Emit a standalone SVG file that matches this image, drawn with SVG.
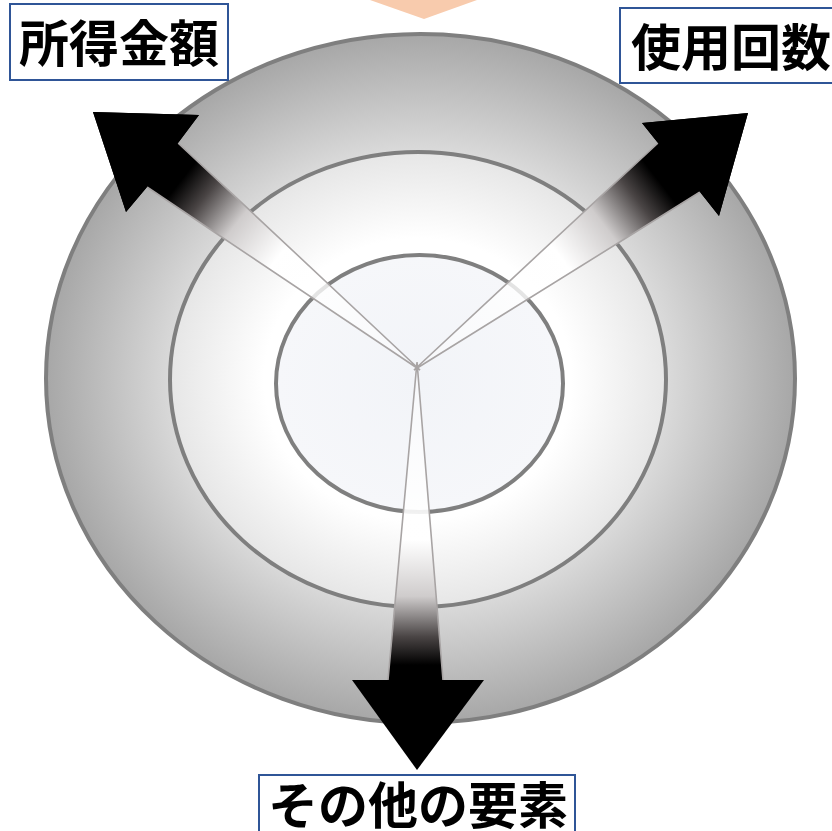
<svg xmlns="http://www.w3.org/2000/svg" width="832" height="831" viewBox="0 0 832 831">
<style>
.ring{stroke:#7f7f7f;stroke-width:4}
.lbl{fill:#fff;stroke:#2f5597;stroke-width:2}
.txt{font-family:"Noto Sans CJK JP","Noto Sans CJK SC",sans-serif;font-weight:bold;font-size:50px;fill:#000;text-anchor:middle}
.edge{fill:none;stroke:#a8a4a4;stroke-width:1.6}
.head{fill:#000}
</style>
<defs>
<radialGradient id="gOuter" cx="0.5" cy="0.5" r="0.5">
<stop offset="0" stop-color="#ffffff"/>
<stop offset="0.4" stop-color="#f6f6f6"/>
<stop offset="0.66" stop-color="#dadada"/>
<stop offset="1" stop-color="#a7a7a7"/>
</radialGradient>
<radialGradient id="gMid" cx="0.5" cy="0.5" r="0.5">
<stop offset="0" stop-color="#ffffff"/>
<stop offset="0.62" stop-color="#ffffff"/>
<stop offset="1" stop-color="#e6e6e6"/>
</radialGradient>
<radialGradient id="gIn" cx="0.5" cy="0.5" r="0.5">
<stop offset="0" stop-color="#f2f4f8"/>
<stop offset="1" stop-color="#f6f7fa"/>
</radialGradient>
<linearGradient id="aUL" gradientUnits="userSpaceOnUse" x1="417" y1="368" x2="93" y2="112">
<stop offset="0" stop-color="#fff" stop-opacity="0.3"/>
<stop offset="0.43" stop-color="#fff"/>
<stop offset="0.56" stop-color="#cfcccc"/>
<stop offset="0.66" stop-color="#4a4545"/>
<stop offset="0.73" stop-color="#000"/>
<stop offset="1" stop-color="#000"/>
</linearGradient>
<linearGradient id="aUR" gradientUnits="userSpaceOnUse" x1="419" y1="366" x2="748" y2="113">
<stop offset="0" stop-color="#fff" stop-opacity="0.3"/>
<stop offset="0.43" stop-color="#fff"/>
<stop offset="0.56" stop-color="#cfcccc"/>
<stop offset="0.66" stop-color="#4a4545"/>
<stop offset="0.73" stop-color="#000"/>
<stop offset="1" stop-color="#000"/>
</linearGradient>
<linearGradient id="aB" gradientUnits="userSpaceOnUse" x1="417" y1="366" x2="417" y2="770">
<stop offset="0" stop-color="#fff" stop-opacity="0.3"/>
<stop offset="0.43" stop-color="#fff"/>
<stop offset="0.57" stop-color="#cfcccc"/>
<stop offset="0.67" stop-color="#4a4545"/>
<stop offset="0.74" stop-color="#000"/>
<stop offset="1" stop-color="#000"/>
</linearGradient>
</defs>
<rect width="832" height="831" fill="#fff"/>
<g id="top-arrow"><polygon points="370,0 477,0 424,19" fill="#f8cbad"/></g>
<g id="ring-outer"><ellipse class="ring" cx="420.5" cy="378.5" rx="374.5" ry="344.5" fill="url(#gOuter)"/></g>
<g id="ring-middle"><ellipse class="ring" cx="418" cy="379.5" rx="248" ry="227.5" fill="url(#gMid)"/></g>
<g id="ring-inner"><ellipse class="ring" cx="419.5" cy="383.5" rx="143.5" ry="128.5" fill="url(#gIn)"/></g>
<g id="connectors">
<g id="arrow-income">
<polygon points="417,368 147,187 126,212 93,112 199,115 178,143" fill="url(#aUL)"/>
<polyline class="edge" points="178,143 420,370 147,187"/>
<polygon class="head" points="147,187 126,212 93,112 199,115 178,143"/>
</g>
<g id="arrow-usage">
<polygon points="419,366 658,143 642,123 748,113 719,216 700,192" fill="url(#aUR)"/>
<polyline class="edge" points="658,143 414,370 700,192"/>
<polygon class="head" points="658,143 642,123 748,113 719,216 700,192"/>
</g>
<g id="arrow-other">
<polygon points="417,362 388,680 443,680" fill="url(#aB)"/>
<polyline class="edge" points="388,680 417,362 443,680"/>
<polygon class="head" points="352,680 484,680 417,770"/>
</g>
</g>
<g id="label-income">
<rect class="lbl" x="10" y="4" width="218" height="76"/>
<text class="txt" x="119" y="62">所得金額</text>
</g>
<g id="label-usage">
<rect class="lbl" x="620" y="8" width="220" height="75"/>
<text class="txt" x="731" y="66">使用回数</text>
</g>
<g id="label-other">
<rect class="lbl" x="259" y="775" width="316" height="70"/>
<text class="txt" x="418" y="824">その他の要素</text>
</g>
</svg>
